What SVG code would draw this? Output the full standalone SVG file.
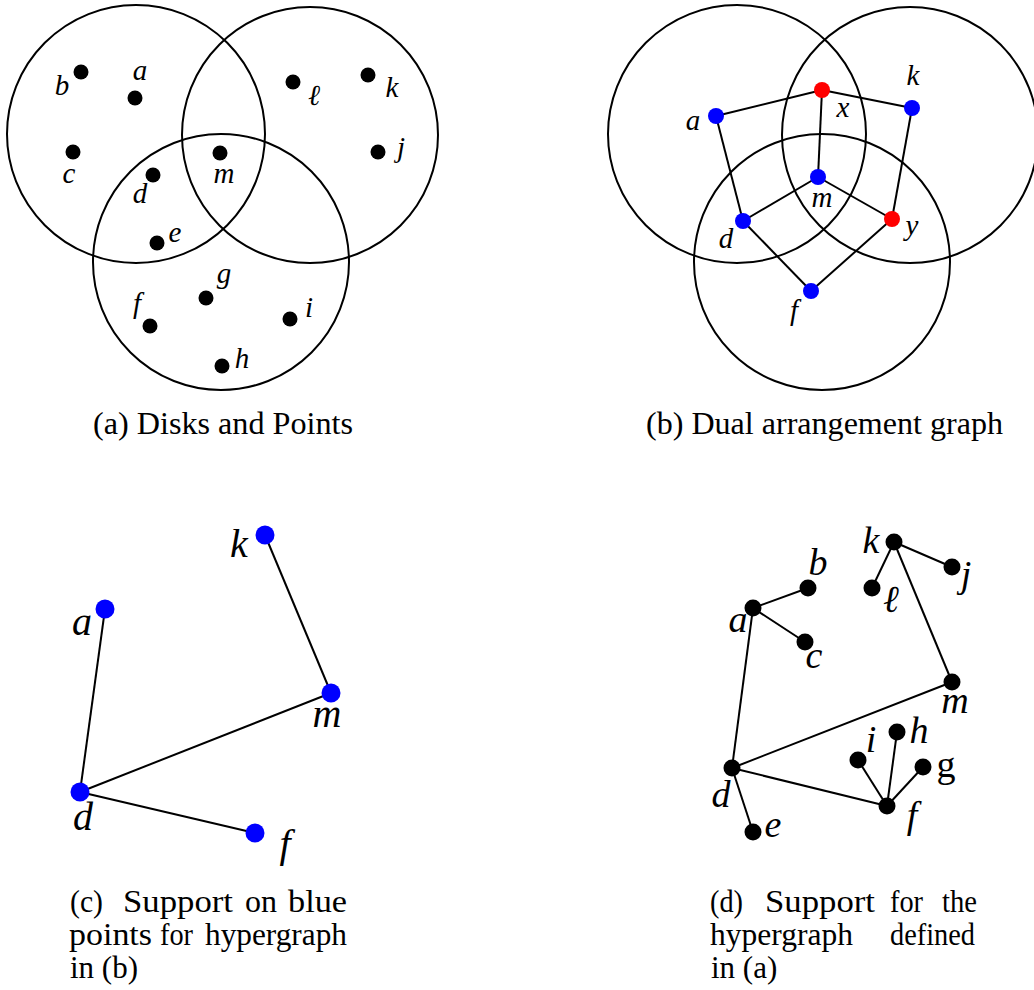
<svg xmlns="http://www.w3.org/2000/svg" width="1034" height="990" viewBox="0 0 1034 990">
<style>
.disk{fill:none;stroke:#000;stroke-width:2}
.e{stroke:#000;stroke-width:2;fill:none}
.pt{fill:#000}
.bl{fill:#0000ff}
.rd{fill:#ff0000}
.lb{font-family:"Liberation Serif",serif;font-style:italic;font-size:29px;fill:#000;text-anchor:middle}
.lc{font-family:"Liberation Serif",serif;font-style:italic;font-size:40px;fill:#000;text-anchor:middle}
.ld{font-family:"Liberation Serif",serif;font-style:italic;font-size:38px;fill:#000;text-anchor:middle}
.cap{font-family:"Liberation Serif",serif;font-size:31px;fill:#000}
</style>
<rect width="1034" height="990" fill="#fff"/>

<!-- Panel (a) -->
<g id="panel-a">
<circle class="disk" cx="136" cy="134" r="129"/>
<circle class="disk" cx="310" cy="135" r="128"/>
<circle class="disk" cx="221" cy="262" r="128"/>
<g id="a-b"><circle class="pt" cx="81" cy="72" r="7.5"/><text class="lb" x="62" y="95">b</text></g>
<g id="a-a"><circle class="pt" cx="135" cy="98" r="7.5"/><text class="lb" x="140" y="80">a</text></g>
<g id="a-c"><circle class="pt" cx="73" cy="152" r="7.5"/><text class="lb" x="69" y="183">c</text></g>
<g id="a-d"><circle class="pt" cx="153" cy="175" r="7.5"/><text class="lb" x="140" y="203">d</text></g>
<g id="a-m"><circle class="pt" cx="220" cy="153" r="7.5"/><text class="lb" x="224" y="183">m</text></g>
<g id="a-e"><circle class="pt" cx="157" cy="243" r="7.5"/><text class="lb" x="175" y="242">e</text></g>
<g id="a-l"><circle class="pt" cx="293" cy="82" r="7.5"/><text class="lb" x="314" y="105">ℓ</text></g>
<g id="a-k"><circle class="pt" cx="368" cy="75" r="7.5"/><text class="lb" x="392" y="97">k</text></g>
<g id="a-j"><circle class="pt" cx="378" cy="152" r="7.5"/><text class="lb" x="401" y="157">j</text></g>
<g id="a-g"><circle class="pt" cx="206" cy="298" r="7.5"/><text class="lb" x="224" y="283">g</text></g>
<g id="a-f"><circle class="pt" cx="150" cy="326" r="7.5"/><text class="lb" x="137" y="313">f</text></g>
<g id="a-i"><circle class="pt" cx="290" cy="319" r="7.5"/><text class="lb" x="309" y="317">i</text></g>
<g id="a-h"><circle class="pt" cx="222" cy="366" r="7.5"/><text class="lb" x="242" y="368">h</text></g>
<text class="cap" x="93" y="434" textLength="260" lengthAdjust="spacingAndGlyphs">(a) Disks and Points</text>
</g>

<!-- Panel (b) -->
<g id="panel-b">
<circle class="disk" cx="737" cy="134" r="129"/>
<circle class="disk" cx="910" cy="135" r="128"/>
<circle class="disk" cx="822" cy="262" r="128"/>
<g id="b-edges">
<line class="e" x1="716" y1="116" x2="822" y2="90"/>
<line class="e" x1="822" y1="90" x2="912" y2="108"/>
<line class="e" x1="822" y1="90" x2="818" y2="177"/>
<line class="e" x1="716" y1="116" x2="743" y2="221"/>
<line class="e" x1="743" y1="221" x2="818" y2="177"/>
<line class="e" x1="818" y1="177" x2="892" y2="219"/>
<line class="e" x1="912" y1="108" x2="892" y2="219"/>
<line class="e" x1="743" y1="221" x2="811" y2="291"/>
<line class="e" x1="811" y1="291" x2="892" y2="219"/>
</g>
<g id="b-x"><circle class="rd" cx="822" cy="90" r="8"/><text class="lb" x="843" y="117">x</text></g>
<g id="b-a"><circle class="bl" cx="716" cy="116" r="8"/><text class="lb" x="693" y="130">a</text></g>
<g id="b-k"><circle class="bl" cx="912" cy="108" r="8"/><text class="lb" x="913" y="85">k</text></g>
<g id="b-m"><circle class="bl" cx="818" cy="177" r="8"/><text class="lb" x="822" y="207">m</text></g>
<g id="b-d"><circle class="bl" cx="743" cy="221" r="8"/><text class="lb" x="726" y="248">d</text></g>
<g id="b-y"><circle class="rd" cx="892" cy="219" r="8"/><text class="lb" x="912" y="235">y</text></g>
<g id="b-f"><circle class="bl" cx="811" cy="291" r="8"/><text class="lb" x="794" y="320">f</text></g>
<text class="cap" x="646" y="434" textLength="357" lengthAdjust="spacingAndGlyphs">(b) Dual arrangement graph</text>
</g>

<!-- Panel (c) -->
<g id="panel-c">
<g id="c-edges">
<line class="e" x1="105" y1="609" x2="80" y2="792"/>
<line class="e" x1="265" y1="535" x2="331" y2="693"/>
<line class="e" x1="80" y1="792" x2="331" y2="693"/>
<line class="e" x1="80" y1="792" x2="255" y2="833"/>
</g>
<g id="c-k"><circle class="bl" cx="265" cy="535" r="9.5"/><text class="lc" x="239" y="557">k</text></g>
<g id="c-a"><circle class="bl" cx="105" cy="609" r="9.5"/><text class="lc" x="82" y="635">a</text></g>
<g id="c-m"><circle class="bl" cx="331" cy="693" r="9.5"/><text class="lc" x="327" y="727">m</text></g>
<g id="c-d"><circle class="bl" cx="80" cy="792" r="9.5"/><text class="lc" x="83" y="830">d</text></g>
<g id="c-f"><circle class="bl" cx="255" cy="833" r="9.5"/><text class="lc" x="285" y="857">f</text></g>
<g class="cap">
<text x="70" y="912" textLength="33" lengthAdjust="spacingAndGlyphs">(c)</text><text x="123" y="912" textLength="110" lengthAdjust="spacingAndGlyphs">Support</text><text x="245" y="912" textLength="32" lengthAdjust="spacingAndGlyphs">on</text><text x="288" y="912" textLength="59" lengthAdjust="spacingAndGlyphs">blue</text>
<text x="69" y="945" textLength="83" lengthAdjust="spacingAndGlyphs">points</text><text x="160" y="945" textLength="33" lengthAdjust="spacingAndGlyphs">for</text><text x="205" y="945" textLength="142" lengthAdjust="spacingAndGlyphs">hypergraph</text>
<text x="70" y="978">in (b)</text>
</g>
</g>

<!-- Panel (d) -->
<g id="panel-d">
<g id="d-edges">
<line class="e" x1="894" y1="542" x2="952" y2="567"/>
<line class="e" x1="894" y1="542" x2="872" y2="588"/>
<line class="e" x1="894" y1="542" x2="952" y2="682"/>
<line class="e" x1="753" y1="608" x2="808" y2="588"/>
<line class="e" x1="753" y1="608" x2="805" y2="642"/>
<line class="e" x1="753" y1="608" x2="732" y2="768"/>
<line class="e" x1="732" y1="768" x2="952" y2="682"/>
<line class="e" x1="732" y1="768" x2="887" y2="806"/>
<line class="e" x1="732" y1="768" x2="753" y2="832"/>
<line class="e" x1="887" y1="806" x2="858" y2="760"/>
<line class="e" x1="887" y1="806" x2="897" y2="732"/>
<line class="e" x1="887" y1="806" x2="923" y2="767"/>
</g>
<g id="d-k"><circle class="pt" cx="894" cy="542" r="8.5"/><text class="ld" x="871" y="553">k</text></g>
<g id="d-j"><circle class="pt" cx="952" cy="567" r="8.5"/><text class="ld" x="966" y="587">j</text></g>
<g id="d-l"><circle class="pt" cx="872" cy="588" r="8.5"/><text class="ld" x="891" y="612">ℓ</text></g>
<g id="d-b"><circle class="pt" cx="808" cy="588" r="8.5"/><text class="ld" x="818" y="575">b</text></g>
<g id="d-a"><circle class="pt" cx="753" cy="608" r="8.5"/><text class="ld" x="738" y="632">a</text></g>
<g id="d-c"><circle class="pt" cx="805" cy="642" r="8.5"/><text class="ld" x="814" y="668">c</text></g>
<g id="d-m"><circle class="pt" cx="952" cy="682" r="8.5"/><text class="ld" x="955" y="713">m</text></g>
<g id="d-h"><circle class="pt" cx="897" cy="732" r="8.5"/><text class="ld" x="919" y="743">h</text></g>
<g id="d-i"><circle class="pt" cx="858" cy="760" r="8.5"/><text class="ld" x="871" y="752">i</text></g>
<g id="d-g"><circle class="pt" cx="923" cy="767" r="8.5"/><text class="ld" x="946" y="777" style="font-style:normal">g</text></g>
<g id="d-d"><circle class="pt" cx="732" cy="768" r="8.5"/><text class="ld" x="721" y="807">d</text></g>
<g id="d-f"><circle class="pt" cx="887" cy="806" r="8.5"/><text class="ld" x="912" y="828">f</text></g>
<g id="d-e"><circle class="pt" cx="753" cy="832" r="8.5"/><text class="ld" x="773" y="837">e</text></g>
<g class="cap">
<text x="710" y="912" textLength="33" lengthAdjust="spacingAndGlyphs">(d)</text><text x="765" y="912" textLength="110" lengthAdjust="spacingAndGlyphs">Support</text><text x="890" y="912" textLength="33" lengthAdjust="spacingAndGlyphs">for</text><text x="942" y="912" textLength="35" lengthAdjust="spacingAndGlyphs">the</text>
<text x="710" y="945" textLength="143" lengthAdjust="spacingAndGlyphs">hypergraph</text><text x="890" y="945" textLength="85" lengthAdjust="spacingAndGlyphs">defined</text>
<text x="711" y="978">in (a)</text>
</g>
</g>
</svg>
